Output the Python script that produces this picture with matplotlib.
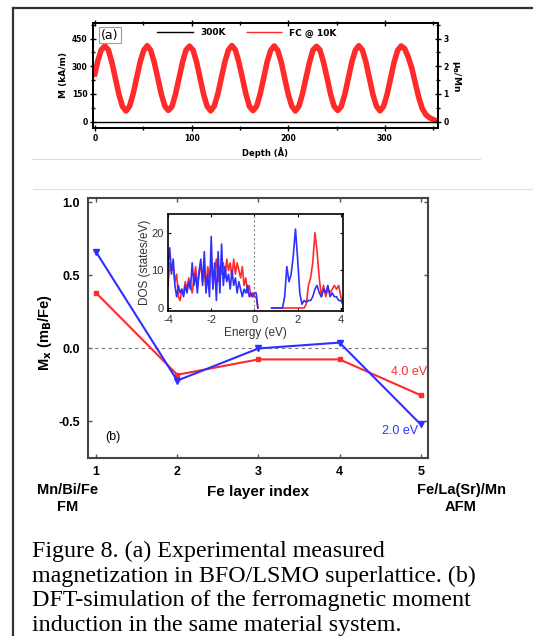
import numpy as np
import matplotlib.pyplot as plt
from matplotlib.lines import Line2D
from matplotlib.ticker import MultipleLocator

plt.rcParams['axes.unicode_minus'] = False

W, H = 533, 636

# ---- panel (a): magnetization depth profile
depth_start, depth_step = -0.65, 3.65
m_fc = [245, 330, 390,
        410, 388, 320, 233, 146, 82, 58, 84, 150, 237, 323, 386,
        411, 386, 321, 236, 149, 84, 61, 82, 147, 234, 321, 388,
        409, 387, 323, 234, 147, 83, 59, 85, 149, 236, 322, 387,
        412, 388, 321, 235, 148, 82, 60, 83, 148, 235, 324, 386,
        410, 386, 322, 233, 147, 84, 58, 84, 149, 236, 321, 388,
        408, 387, 320, 236, 148, 83, 61, 82, 147, 234, 322, 387,
        411, 388, 323, 234, 146, 84, 59, 83, 148, 235, 323, 386,
        410,
        395, 350, 290, 210, 130, 70, 38, 22, 12, 5]
legend_labels = ['300K', 'FC @ 10K']

# ---- panel (b): Fe layer moments
layer = [1, 2, 3, 4, 5]
mx_4ev = [0.38, -0.18, -0.075, -0.075, -0.32]
mx_2ev = [0.66, -0.22, 0.0, 0.04, -0.52]

# ---- inset: DOS
e_val = np.linspace(-4.0, 0.16, 53)
dos_val_red = [6, 12, 10, 11, 7, 9, 3, 2, 5, 4,
               7, 5, 8, 6, 4, 8, 11, 6, 9, 12,
               7, 10, 5, 11, 8, 12, 6, 10, 13, 7,
               11, 9, 12, 8, 13, 10, 12, 8, 13, 9,
               12, 10, 8, 11, 6, 8, 4, 6, 3, 4,
               3, 3, 0]
dos_val_blue = [11, 16, 9, 13, 6, 3, 6, 4, 5, 3,
                6, 4, 7, 5, 12, 6, 9, 4, 10, 13,
                6, 15, 4, 9, 3, 19, 5, 12, 2, 15,
                4, 17, 6, 11, 7, 9, 5, 10, 6, 8,
                4, 7, 5, 3, 5, 4, 6, 3, 4, 3,
                4, 4, 0]
e_cond = np.linspace(0.8, 4.1, 34)
dos_cond_red = [0, 0, 0, 0, 0, 0, 0, 0, 0, 0, 0, 0, 0, 0, 0, 0,
                1, 6, 8, 12, 20, 15, 8, 3, 6, 3, 5, 4, 5, 6, 5, 6, 3, 1]
dos_cond_blue = [0, 0, 0, 0, 0, 0,
                 3, 11, 7, 9, 14, 21, 13, 4, 1, 2, 1.5, 2, 2, 3,
                 5, 6, 4, 3, 5, 4, 6, 3, 4, 3, 3, 2, 2, 1]

caption = ["Figure 8. (a) Experimental measured",
           "magnetization in BFO/LSMO superlattice. (b)",
           "DFT-simulation of the ferromagnetic moment",
           "induction in the same material system."]

RED = '#ff2a2a'
BLUE = '#2f2fff'


def fx(x):
    return x / W


def fy(y):
    return 1 - y / H


fig = plt.figure(figsize=(W / 100, H / 100), dpi=100)

# page decorations
fig.add_artist(Line2D([fx(13), fx(13)], [fy(8), fy(640)], color='#333333', lw=1.6))
fig.add_artist(Line2D([fx(13), fx(533)], [fy(8), fy(8)], color='#333333', lw=1.6))
fig.add_artist(Line2D([fx(32), fx(480)], [fy(159), fy(159)], color='#dddddd', lw=0.8))
fig.add_artist(Line2D([fx(33), fx(533)], [fy(189), fy(189)], color='#dddddd', lw=0.8))

# ================= panel (a)
axa = fig.add_axes([fx(93), fy(128), fx(438 - 93), (128 - 23) / H])
depth = depth_start + depth_step * np.arange(len(m_fc))
axa.plot(depth, m_fc, color='black', lw=1.0, label=legend_labels[0])
axa.plot(depth, m_fc, color=RED, lw=4.0, solid_capstyle='butt', label=legend_labels[1])
axa.axhline(0, color='black', lw=1.0)
axa.set_xlim(-2, 355)
axa.set_ylim(-34, 534)
axa.xaxis.set_major_locator(MultipleLocator(100))
axa.xaxis.set_minor_locator(MultipleLocator(50))
axa.yaxis.set_major_locator(MultipleLocator(150))
axa.yaxis.set_minor_locator(MultipleLocator(75))
axa.tick_params(which='both', direction='inout', top=True, labelsize=5.5, width=1, pad=2)
axa.tick_params(which='major', length=4)
axa.tick_params(which='minor', length=2.5)
for lab in axa.get_xticklabels() + axa.get_yticklabels():
    lab.set_fontweight('bold')
for s in axa.spines.values():
    s.set_linewidth(1.4)
axa.set_xlabel('Depth (Å)', fontsize=6, fontweight='bold', labelpad=3)
axa.set_ylabel('M (kA/m)', fontsize=6.5, fontweight='bold', labelpad=3)

axr = axa.twinx()
axr.set_ylim(-34 / 150, 534 / 150)
axr.yaxis.set_major_locator(MultipleLocator(1))
axr.yaxis.set_minor_locator(MultipleLocator(0.5))
axr.tick_params(which='both', direction='inout', labelsize=5.5, width=1, pad=2)
axr.tick_params(which='major', length=4)
axr.tick_params(which='minor', length=2.5)
for lab in axr.get_yticklabels():
    lab.set_fontweight('bold')
for s in axr.spines.values():
    s.set_linewidth(1.4)
axr.set_ylabel(r'$\mathbf{\mu_B}$/Mn', fontsize=6.5, fontweight='bold', rotation=270, labelpad=10)

leg = axa.legend(ncol=2, loc='center left', bbox_to_anchor=((157 - 93) / 345, 0.905),
                 frameon=False, borderpad=0, borderaxespad=0, handlelength=4.0,
                 handletextpad=0.8, columnspacing=2.2, prop={'weight': 'bold', 'size': 6.5})
for h in leg.get_lines():
    h.set_linewidth(1.0)
fig.text(fx(110), fy(35), '(a)', fontsize=9, ha='center', va='center',
         bbox=dict(boxstyle='square,pad=0.15', fc='white', ec='#8aa2bb', lw=0.8))

# ================= panel (b)
axb = fig.add_axes([fx(88), fy(458), fx(428 - 88), (458 - 198) / H])
axb.axhline(0, color='#777777', lw=0.8, ls=(0, (3, 3)))
axb.plot(layer, mx_4ev, color=RED, lw=1.5, marker='s', ms=3.5)
axb.plot(layer, mx_2ev, color=BLUE, lw=1.5, marker='v', ms=4)
axb.set_xlim(0.9, 5.09)
axb.set_ylim(-0.75, 1.03)
axb.set_xticks(layer)
axb.set_yticks([-0.5, 0.0, 0.5, 1.0])
axb.set_yticklabels(['-0.5', '0.0', '0.5', '1.0'])
axb.tick_params(direction='in', top=True, right=True, length=3, width=1,
                labelsize=9, pad=6, color='#555555')
for lab in axb.get_xticklabels() + axb.get_yticklabels():
    lab.set_fontweight('bold')
    lab.set_family('Liberation Sans')
for s in axb.spines.values():
    s.set_linewidth(1.5)
    s.set_color('#444444')

fig.text(fx(45), fy(333), r'M$_\mathbf{x}$ (m$_\mathbf{B}$/Fe)', rotation=90, fontsize=10.5,
         fontweight='bold', family='Liberation Sans', ha='center', va='center')
fig.text(fx(258), fy(492), 'Fe layer index', fontsize=11, fontweight='bold',
         family='Liberation Sans', ha='center', va='center')
fig.text(fx(68), fy(490), 'Mn/Bi/Fe', fontsize=10.5, fontweight='bold',
         family='Liberation Sans', ha='center', va='center')
fig.text(fx(68), fy(507), 'FM', fontsize=10.5, fontweight='bold',
         family='Liberation Sans', ha='center', va='center')
fig.text(fx(461), fy(490), 'Fe/La(Sr)/Mn', fontsize=10.5, fontweight='bold',
         family='Liberation Sans', ha='center', va='center')
fig.text(fx(461), fy(507), 'AFM', fontsize=10.5, fontweight='bold',
         family='Liberation Sans', ha='center', va='center')
fig.text(fx(409), fy(372), '4.0 eV', fontsize=9, color=RED, family='Liberation Sans',
         ha='center', va='center')
fig.text(fx(400), fy(431), '2.0 eV', fontsize=9, color=BLUE, family='Liberation Sans',
         ha='center', va='center')
fig.text(fx(113), fy(437), '(b)', fontsize=9, family='Liberation Sans',
         ha='center', va='center')

# ================= inset
axi = fig.add_axes([fx(168), fy(311), fx(343 - 168), (311 - 214) / H])
axi.axvline(0, color='#888888', lw=0.8, ls=(0, (2, 2)))
axi.plot(e_val, dos_val_red, color=RED, lw=1.2)
axi.plot(e_cond, dos_cond_red, color=RED, lw=1.2)
axi.plot(e_val, dos_val_blue, color=BLUE, lw=1.2)
axi.plot(e_cond, dos_cond_blue, color=BLUE, lw=1.2)
axi.set_xlim(-4.0, 4.1)
axi.set_ylim(-0.8, 25)
axi.set_xticks([-4, -2, 0, 2, 4])
axi.set_yticks([0, 10, 20])
axi.tick_params(direction='in', top=True, right=True, length=2, width=0.8,
                labelsize=8, pad=3, labelcolor='#333333')
for lab in axi.get_xticklabels() + axi.get_yticklabels():
    lab.set_family('Liberation Sans')
for s in axi.spines.values():
    s.set_linewidth(1.2)
axi.set_xlabel('Energy (eV)', fontsize=8.5, family='Liberation Sans', color='#333333', labelpad=1)
axi.set_ylabel('DOS (states/eV)', fontsize=8.5, family='Liberation Sans', color='#333333', labelpad=0)

# ================= caption
for i, line in enumerate(caption):
    fig.text(fx(32), fy(557 + 24.7 * i), line, fontsize=17.3, family='Liberation Serif',
             ha='left', va='baseline')

fig.savefig('out.png', dpi=100)
